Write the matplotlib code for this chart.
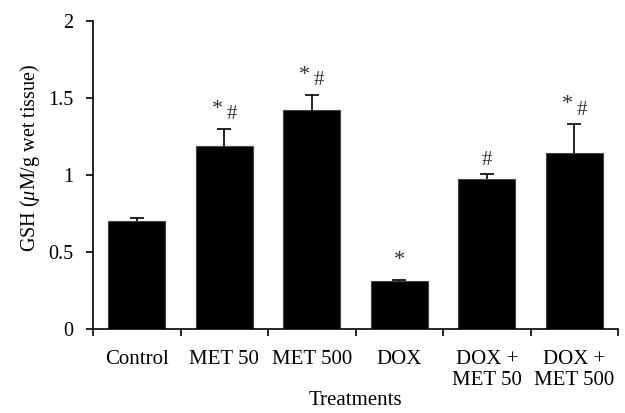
import matplotlib.pyplot as plt
import numpy as np

plt.rcParams['font.family'] = ['Liberation Serif', 'DejaVu Serif']
plt.rcParams['mathtext.fontset'] = 'custom'
plt.rcParams['mathtext.it'] = 'Liberation Serif:italic'
plt.rcParams['mathtext.rm'] = 'Liberation Serif'

# GSH levels per treatment group
groups = ["Control", "MET 50", "MET 500", "DOX", "DOX +\nMET 50", "DOX +\nMET 500"]
gsh = [0.70, 1.19, 1.42, 0.31, 0.975, 1.145]
err = [0.02, 0.11, 0.10, 0.006, 0.03, 0.185]
marks = ["", "*#", "*#", "*", "#", "*#"]

fig = plt.figure(figsize=(6.25, 4.13), dpi=100)
ax = fig.add_axes([0.149, 0.203, 0.84, 0.746])

x = np.arange(len(groups))
ax.bar(x, gsh, width=0.65, color='black', edgecolor='#444444', linewidth=0.8)
eb = ax.errorbar(x, gsh, yerr=[np.zeros(len(err)), err], fmt='none',
                 ecolor='black', elinewidth=1.2, capsize=5, capthick=1.2)
eb[1][0].set_visible(False)  # no cap at the bar top

# significance marks above the error bars
for xi, top, m in zip(x, np.array(gsh) + np.array(err), marks):
    if m == "*#":
        ax.text(xi - 0.08, top + 0.065, "*", ha='center', va='bottom', fontsize=16, color='#333333')
        ax.text(xi + 0.08, top + 0.03, "#", ha='center', va='bottom', fontsize=15, color='#333333')
    elif m == "*":
        ax.text(xi, top + 0.065, "*", ha='center', va='bottom', fontsize=16, color='#333333')
    elif m == "#":
        ax.text(xi, top + 0.03, "#", ha='center', va='bottom', fontsize=15, color='#333333')

ax.set_xlim(-0.5, len(groups) - 0.5)
ax.set_ylim(0, 2)
ax.set_yticks([0, 0.5, 1, 1.5, 2])
ax.set_yticklabels(["0", "0.5", "1", "1.5", "2"])
ax.set_xticks(np.arange(len(groups) + 1) - 0.5)
ax.set_xticklabels([])
ax.set_xticks(x, minor=True)
ax.set_xticklabels(groups, minor=True, fontsize=15, linespacing=1.15)
ax.tick_params(axis='x', which='minor', length=0, pad=15)
ax.tick_params(axis='x', which='major', length=5, width=1.2, direction='out')
ax.tick_params(axis='y', length=5, width=1.2, direction='out', labelsize=14.5, pad=9)
for sp in ['top', 'right']:
    ax.spines[sp].set_visible(False)
for sp in ['left', 'bottom']:
    ax.spines[sp].set_linewidth(1.2)

ax.set_xlabel("Treatments", fontsize=15, labelpad=1)
ax.set_ylabel(r"GSH ($\mathit{\mu}$M/g wet tissue)", fontsize=14.5)
ax.yaxis.set_label_coords(-0.097, 0.556)

fig.savefig("out.png", dpi=100)
